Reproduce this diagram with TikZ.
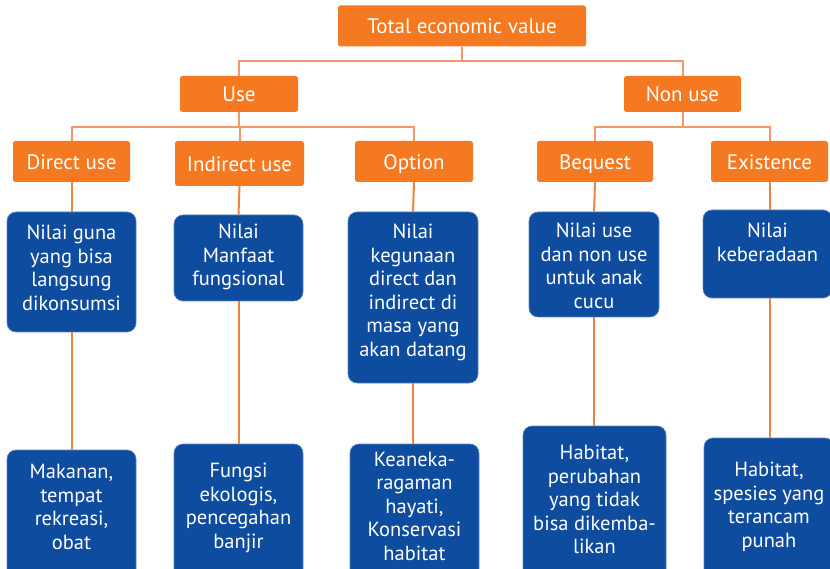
\documentclass[tikz,border=0pt]{standalone}
\usepackage{fontspec}
\setmainfont{PT Sans}
\definecolor{orfill}{RGB}{244,121,32}
\definecolor{blfill}{RGB}{14,76,159}
\definecolor{blline}{RGB}{90,130,190}
\definecolor{toplink}{RGB}{243,152,105}
\definecolor{lowlink}{RGB}{241,131,62}
\begin{document}
\begin{tikzpicture}[x=1pt,y=-1pt,
  orbox/.style={fill=orfill,rounded corners=2.5pt,inner sep=0pt,text=white,
    text height=17.5pt,text depth=1.5pt,
    font=\fontsize{21}{24}\selectfont},
  blbox/.style={fill=blfill,draw=blline,line width=0.6pt,rounded corners=9pt,inner sep=0pt},
  bltext/.style={text=white,align=center,inner sep=0pt,anchor=north,
    font=\fontsize{20.5}{23.5}\selectfont},
  toplk/.style={draw=toplink,line width=2pt},
  lowlk/.style={draw=lowlink,line width=2pt}]
\useasboundingbox (0,0) rectangle (830,569);
\clip (0,0) rectangle (830,569);
% orange boxes
\node[orbox,minimum width=248pt,minimum height=41pt] (tev) at (462,26) {Total economic value};
\node[orbox,minimum width=118pt,minimum height=36pt] (use) at (239,94) {Use};
\node[orbox,minimum width=117pt,minimum height=36pt] (nonuse) at (682.5,94) {Non use};
\node[orbox,minimum width=117pt,minimum height=41pt] (direct) at (71.5,161.5) {Direct use};
\node[orbox,minimum width=129pt,minimum height=45pt] (indirect) at (239.5,163.5) {Indirect use};
\node[orbox,minimum width=118pt,minimum height=41pt] (option) at (414,161.5) {Option};
\node[orbox,minimum width=116pt,minimum height=41pt] (bequest) at (595,161.5) {Bequest};
\node[orbox,minimum width=117pt,minimum height=41pt] (existence) at (769.5,161.5) {Existence};
% blue boxes, upper row
\node[blbox,minimum width=129pt,minimum height=120pt] (b1) at (71.5,272) {};
\node[blbox,minimum width=129pt,minimum height=86pt] (b2) at (238.5,258) {};
\node[blbox,minimum width=130pt,minimum height=171pt] (b3) at (413,297.5) {};
\node[blbox,minimum width=130pt,minimum height=105pt] (b4) at (594,264.5) {};
\node[blbox,minimum width=129pt,minimum height=88pt] (b5) at (767.5,254) {};
% blue boxes, lower row
\node[blbox,minimum width=129pt,minimum height=150pt] (c1) at (71.5,525) {};
\node[blbox,minimum width=129pt,minimum height=156pt] (c2) at (238.5,522) {};
\node[blbox,minimum width=129pt,minimum height=156pt] (c3) at (414.5,522) {};
\node[blbox,minimum width=143pt,minimum height=174pt] (c4) at (594.5,513) {};
\node[blbox,minimum width=130pt,minimum height=162pt] (c5) at (769,519) {};
% texts
\node[bltext] (t1) at (71.5,225) {Nilai guna\\yang bisa\\langsung\\dikonsumsi};
\node[bltext] (t2) at (238.5,224) {Nilai\\Manfaat\\fungsional};
\node[bltext] (t3) at (413,224) {Nilai\\kegunaan\\direct dan\\indirect di\\masa yang\\akan datang};
\node[bltext] (t4) at (594,223) {Nilai use\\dan non use\\untuk anak\\cucu};
\node[bltext] (t5) at (767.5,223) {Nilai\\keberadaan};
\node[bltext] (u1) at (71.5,464) {Makanan,\\tempat\\rekreasi,\\obat};
\node[bltext] (u2) at (238.5,463) {Fungsi\\ekologis,\\pencegahan\\banjir};
\node[bltext] (u3) at (414.5,451.5) {Keaneka-\\ragaman\\hayati,\\Konservasi\\habitat};
\node[bltext] (u4) at (594.5,445) {Habitat,\\perubahan\\yang tidak\\bisa dikemba-\\likan};
\node[bltext] (u5) at (769,462) {Habitat,\\spesies yang\\terancam\\punah};
% connectors
\draw[toplk] (tev.south) -- ++(0,14) -| (use.north);
\draw[toplk] (tev.south) -- ++(0,14) -| (nonuse.north);
\draw[toplk] (use.south) -- ++(0,15) -| (direct.north);
\draw[toplk] (use.south) -- ++(0,15) -| (indirect.north);
\draw[toplk] (use.south) -- ++(0,15) -| (option.north);
\draw[toplk] (nonuse.south) -- ++(0,15) -| (bequest.north);
\draw[toplk] (nonuse.south) -- ++(0,15) -| (existence.north);
\draw[lowlk] (direct.south) -- (b1.north);
\draw[lowlk] (indirect.south) -- (b2.north);
\draw[lowlk] (option.south) -- (b3.north);
\draw[lowlk] (bequest.south) -- (b4.north);
\draw[lowlk] (existence.south) -- (existence.south |- b5.north);
\draw[lowlk] (b1.south) -- (c1.north);
\draw[lowlk] (b2.south) -- (c2.north);
\draw[lowlk] (b3.south) -- (b3.south |- c3.north);
\draw[lowlk] (b4.south) -- (b4.south |- c4.north);
\draw[lowlk] (existence.south |- b5.south) -- (existence.south |- c5.north);
\end{tikzpicture}
\end{document}
